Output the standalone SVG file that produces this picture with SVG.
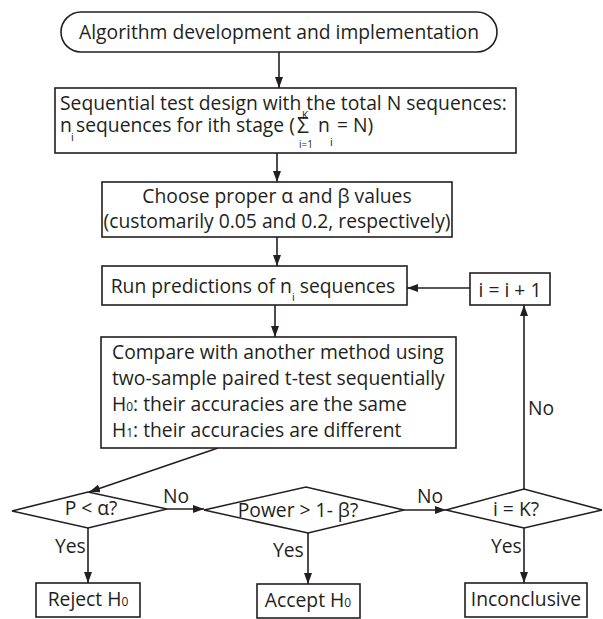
<svg xmlns="http://www.w3.org/2000/svg" width="603" height="619" viewBox="0 0 603 619">
<defs>
<marker id="ah" markerUnits="userSpaceOnUse" markerWidth="11" markerHeight="8" refX="11" refY="4" orient="auto">
<path d="M0,0 L11,4 L0,8 z" fill="#231f20"/>
</marker>
<style>
.b{fill:#fff;stroke:#231f20;stroke-width:1.6}
.t{font-family:"Open Sans","Liberation Sans",sans-serif;font-size:19.3px;fill:#231f20}
.s{font-size:11px}
.k{font-size:10px}
.z{font-size:12px}
.sg{font-size:21px}
.m{text-anchor:middle}
.c line{stroke:#231f20;stroke-width:1.6;fill:none;marker-end:url(#ah)}
</style>
</defs>
<rect width="603" height="619" fill="#fff"/>
<g class="c" id="connectors">
<line x1="279" y1="52" x2="279" y2="88"/>
<line x1="277" y1="153" x2="277" y2="182"/>
<line x1="277" y1="237" x2="277" y2="266"/>
<line x1="275" y1="305" x2="275" y2="337"/>
<line x1="218" y1="448" x2="89" y2="492"/>
<line x1="167" y1="509" x2="204" y2="509"/>
<line x1="404" y1="510" x2="446" y2="510"/>
<line x1="88" y1="528" x2="88" y2="583"/>
<line x1="308" y1="533" x2="308" y2="584"/>
<line x1="524" y1="528" x2="524" y2="583"/>
<line x1="524" y1="489" x2="524" y2="305"/>
<line x1="470" y1="288" x2="407" y2="288"/>
</g>
<g class="t" id="edge-labels">
<text x="163" y="503">No</text>
<text x="417" y="503">No</text>
<text x="528" y="415">No</text>
<text x="55" y="553">Yes</text>
<text x="273" y="557">Yes</text>
<text x="491" y="553">Yes</text>
</g>
<g id="n1">
<rect class="b" x="61" y="12" width="436" height="40" rx="20"/>
<text class="t m" x="279" y="39">Algorithm development and implementation</text>
</g>
<g id="n2">
<rect class="b" x="55" y="88" width="461" height="65"/>
<text class="t" x="60" y="110">Sequential test design with the total N sequences:</text>
<text class="t" x="60" y="132">n</text>
<text class="t s" x="71" y="141">i</text>
<text class="t" x="76" y="132">sequences for ith stage (</text>
<text class="t sg" x="297" y="133">Σ</text>
<text class="t k m" x="305" y="119">K</text>
<text class="t k m" x="306" y="148">i=1</text>
<text class="t" x="318" y="132">n</text>
<text class="t s" x="330" y="146">i</text>
<text class="t" x="337" y="132">= N)</text>
</g>
<g id="n3">
<rect class="b" x="102" y="182" width="350" height="55"/>
<text class="t m" x="277" y="203">Choose proper α and β values</text>
<text class="t m" x="277" y="228">(customarily 0.05 and 0.2, respectively)</text>
</g>
<g id="n4">
<rect class="b" x="102" y="266" width="305" height="39"/>
<text class="t m" x="253" y="293">Run predictions of n<tspan class="s" dy="8">i</tspan><tspan dy="-8"> sequences</tspan></text>
</g>
<g id="n5">
<rect class="b" x="470" y="273" width="80" height="32"/>
<text class="t m" x="510" y="297">i = i + 1</text>
</g>
<g id="n6">
<rect class="b" x="101" y="337" width="355" height="111"/>
<text class="t" x="112" y="359">Compare with another method using</text>
<text class="t" x="112" y="385">two-sample paired t-test sequentially</text>
<text class="t" x="112" y="411">H<tspan class="z">0</tspan>: their accuracies are the same</text>
<text class="t" x="112" y="437">H<tspan class="z">1</tspan>: their accuracies are different</text>
</g>
<g id="n7">
<polygon class="b" points="12,511 88,492 167,509 88,528"/>
<text class="t m" x="91" y="515">P &lt; α?</text>
</g>
<g id="n8">
<polygon class="b" points="204,510 306,487 404,510 308,533"/>
<text class="t m" x="298" y="517">Power &gt; 1- β?</text>
</g>
<g id="n9">
<polygon class="b" points="446,510 524,489 602,510 524,528"/>
<text class="t m" x="516" y="516">i = K?</text>
</g>
<g id="n10">
<rect class="b" x="36" y="583" width="104" height="34"/>
<text class="t m" x="88" y="606">Reject H<tspan class="z">0</tspan></text>
</g>
<g id="n11">
<rect class="b" x="257" y="584" width="103" height="34"/>
<text class="t m" x="308" y="607">Accept H<tspan class="z">0</tspan></text>
</g>
<g id="n12">
<rect class="b" x="465" y="583" width="122" height="34"/>
<text class="t m" x="526" y="606">Inconclusive</text>
</g>
</svg>
